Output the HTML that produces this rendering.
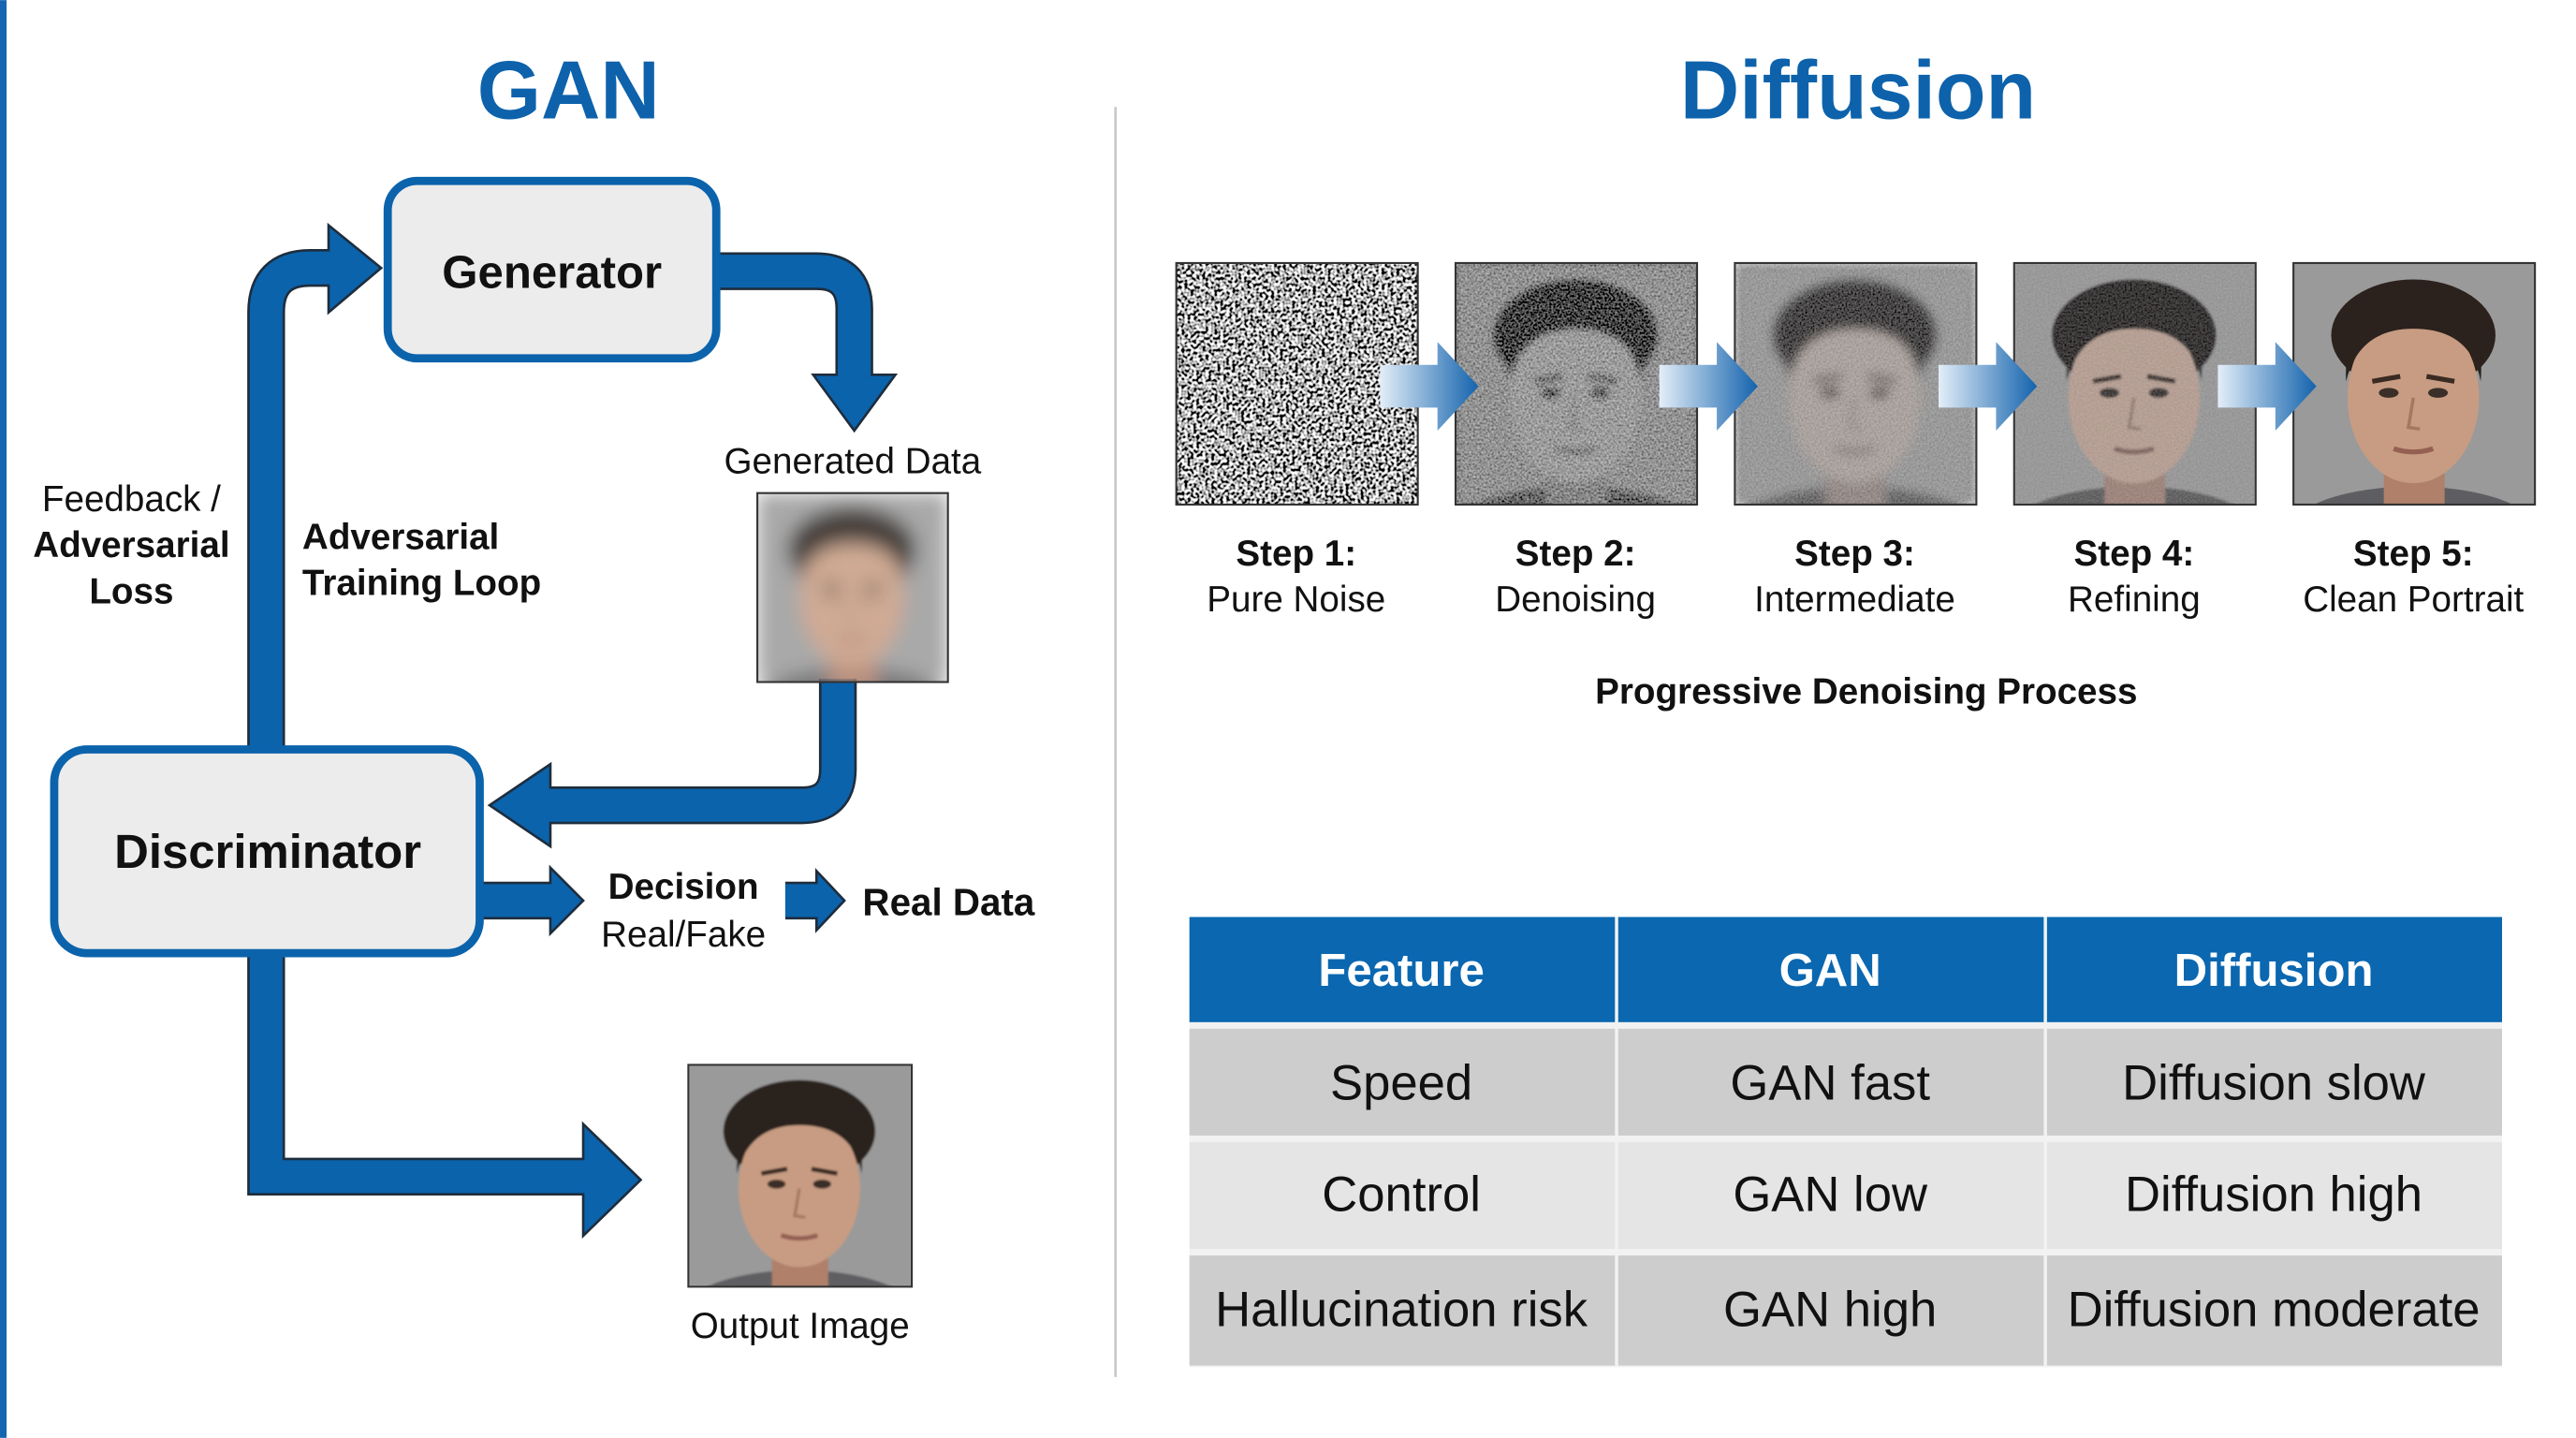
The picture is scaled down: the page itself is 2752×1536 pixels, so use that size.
<!DOCTYPE html>
<html><head><meta charset="utf-8"><style>
html,body{margin:0;padding:0;background:#fff}
svg{display:block}
text{font-family:"Liberation Sans",sans-serif}
.n{font-family:"Liberation Sans Narrow","Liberation Sans",sans-serif}
</style></head><body>
<svg width="2752" height="1536" viewBox="0 0 1568 875" xmlns="http://www.w3.org/2000/svg">
<defs>
<filter id="noise" x="0" y="0" width="1" height="1">
<feTurbulence type="fractalNoise" baseFrequency="0.55" numOctaves="1" seed="4"/>
<feColorMatrix type="matrix" values="1 0 0 0 0 1 0 0 0 0 1 0 0 0 0 0 0 0 0 1"/>
<feComponentTransfer><feFuncR type="linear" slope="4" intercept="-1.55"/><feFuncG type="linear" slope="4" intercept="-1.55"/><feFuncB type="linear" slope="4" intercept="-1.55"/></feComponentTransfer>
</filter>
<filter id="f2" x="0" y="0" width="1" height="1">
<feColorMatrix in="SourceGraphic" type="saturate" values="0" result="g"/>
<feGaussianBlur in="g" stdDeviation="2" result="gb"/>
<feTurbulence type="fractalNoise" baseFrequency="0.8" seed="7" result="t"/>
<feColorMatrix in="t" type="matrix" values="1 0 0 0 0 1 0 0 0 0 1 0 0 0 0 0 0 0 0 1" result="tg"/>
<feComposite in="gb" in2="tg" operator="arithmetic" k2="0.75" k3="0.7" k4="-0.3"/>
</filter>
<filter id="f3" x="0" y="0" width="1" height="1">
<feColorMatrix in="SourceGraphic" type="saturate" values="0.2" result="g"/>
<feGaussianBlur in="g" stdDeviation="3" result="gb"/>
<feTurbulence type="fractalNoise" baseFrequency="0.9" seed="9" result="t"/>
<feColorMatrix in="t" type="matrix" values="1 0 0 0 0 1 0 0 0 0 1 0 0 0 0 0 0 0 0 1" result="tg"/>
<feComposite in="gb" in2="tg" operator="arithmetic" k2="0.85" k3="0.3" k4="-0.1"/>
</filter>
<filter id="f4" x="0" y="0" width="1" height="1">
<feColorMatrix in="SourceGraphic" type="saturate" values="0.5" result="g"/>
<feGaussianBlur in="g" stdDeviation="0.8" result="gb"/>
<feTurbulence type="fractalNoise" baseFrequency="0.9" seed="11" result="t"/>
<feColorMatrix in="t" type="matrix" values="1 0 0 0 0 1 0 0 0 0 1 0 0 0 0 0 0 0 0 1" result="tg"/>
<feComposite in="gb" in2="tg" operator="arithmetic" k2="0.92" k3="0.15" k4="-0.05"/>
</filter>
<filter id="blur" x="0" y="0" width="1" height="1"><feGaussianBlur stdDeviation="7"/></filter>
<filter id="soft" x="0" y="0" width="1" height="1"><feGaussianBlur stdDeviation="0.6"/></filter>
<linearGradient id="ag" x1="0" x2="1" y1="0" y2="0"><stop offset="0" stop-color="#e3eef8"/><stop offset="1" stop-color="#1463ad"/></linearGradient>
<g id="face">
<rect x="0" y="0" width="147" height="147" fill="#9a9a9a"/>
<ellipse cx="73" cy="162" rx="74" ry="26" fill="#5e5e62"/>
<rect x="55" y="108" width="37" height="45" fill="#b0806a"/>
<ellipse cx="73" cy="44" rx="50" ry="34" fill="#2b211d"/>
<ellipse cx="73" cy="82" rx="40" ry="52" fill="#c89c82"/>
<path d="M32,72 Q30,22 73,18 Q118,20 114,72 Q108,40 73,40 Q40,40 32,72Z" fill="#2b211d"/>
<path d="M48,72 L65,69" stroke="#3a2a22" stroke-width="3"/><path d="M81,69 L98,72" stroke="#3a2a22" stroke-width="3"/>
<ellipse cx="58" cy="79" rx="6" ry="3" fill="#3a2e28"/><ellipse cx="88" cy="79" rx="6" ry="3" fill="#3a2e28"/>
<path d="M73,82 L70,100 L77,101" stroke="#a47860" stroke-width="2" fill="none"/>
<path d="M61,113 Q73,117 85,113" stroke="#955f52" stroke-width="3" fill="none"/>
</g>
</defs>

<rect x="0" y="0" width="1568" height="875" fill="#fff"/>
<rect x="0" y="0" width="4" height="875" fill="#1565b0"/>
<line x1="679" y1="65" x2="679" y2="838" stroke="#c8c8c8" stroke-width="1.5"/>

<text x="346" y="72" font-size="50" font-weight="bold" fill="#0d62ab" text-anchor="middle">GAN</text>
<text x="1131" y="72" font-size="50" font-weight="bold" fill="#0d62ab" text-anchor="middle">Diffusion</text>

<g fill="none" stroke="#1e2d3d" stroke-width="23">
<path d="M162,458 L162,190 Q162,163 189,163 L205,163"/>
<path d="M433,165 L497,165 Q520,165 520,188 L520,232"/>
<path d="M510,413 L510,468 Q510,490 488,490 L330,490"/>
<path d="M289,548 L338,548"/>
<path d="M478,548 L499,548"/>
<path d="M162,578 L162,716 L360,716"/>
</g>
<g fill="#0b63ac" stroke="#1e2d3d" stroke-width="1.5">
<polygon points="200,137 232,163 200,190"/>
<polygon points="495,228 545,228 520,262"/>
<polygon points="335,465 335,515 298,490"/>
<polygon points="335,528 355,548 335,568"/>
<polygon points="497,530 514,548 497,566"/>
<polygon points="355,684 390,718 355,752"/>
</g>
<g fill="none" stroke="#0b63ac" stroke-width="20">
<path d="M162,458 L162,190 Q162,163 189,163 L203,163"/>
<path d="M433,165 L497,165 Q520,165 520,188 L520,230"/>
<path d="M510,413 L510,468 Q510,490 488,490 L333,490"/>
<path d="M289,548 L337,548"/>
<path d="M478,548 L498,548"/>
<path d="M162,578 L162,716 L357,716"/>
</g>

<rect x="236" y="110" width="200" height="108" rx="18" fill="#ececec" stroke="#0b63ac" stroke-width="5"/>
<text x="336" y="175" font-size="28" font-weight="bold" text-anchor="middle" fill="#111">Generator</text>
<rect x="33" y="456" width="259" height="124" rx="20" fill="#ececec" stroke="#0b63ac" stroke-width="5"/>
<text x="163" y="528" font-size="29" font-weight="bold" text-anchor="middle" fill="#111">Discriminator</text>

<text x="80" y="311" font-size="22" text-anchor="middle" fill="#111">Feedback /</text>
<text x="80" y="339" font-size="22" font-weight="bold" text-anchor="middle" fill="#111">Adversarial</text>
<text x="80" y="367" font-size="22" font-weight="bold" text-anchor="middle" fill="#111">Loss</text>
<text x="184" y="334" font-size="22" font-weight="bold" fill="#111">Adversarial</text>
<text x="184" y="362" font-size="22" font-weight="bold" fill="#111">Training Loop</text>
<text x="519" y="288" font-size="22" text-anchor="middle" fill="#111">Generated Data</text>
<text x="416" y="547" font-size="22" font-weight="bold" text-anchor="middle" fill="#111">Decision</text>
<text x="416" y="576" font-size="22" text-anchor="middle" fill="#111">Real/Fake</text>
<text x="525" y="557" font-size="23" font-weight="bold" fill="#111">Real Data</text>
<text x="487" y="814" font-size="22" text-anchor="middle" fill="#111">Output Image</text>

<svg x="461" y="300" width="116" height="115" viewBox="0 0 147 147" preserveAspectRatio="none">
<g filter="url(#blur)" opacity="0.85"><rect width="147" height="147" fill="#b0b0b0"/><use href="#face"/></g></svg>
<rect x="461" y="300" width="116" height="115" fill="none" stroke="#333" stroke-width="1.2"/>
<svg x="419" y="648" width="136" height="135" viewBox="0 0 147 147" preserveAspectRatio="none">
<g filter="url(#soft)"><use href="#face"/></g></svg>
<rect x="419" y="648" width="136" height="135" fill="none" stroke="#333" stroke-width="1.2"/>

<svg x="716" y="160" width="147" height="147" viewBox="0 0 147 147"><rect width="147" height="147" fill="#777" filter="url(#noise)"/></svg>
<svg x="886" y="160" width="147" height="147" viewBox="0 0 147 147"><g filter="url(#f2)"><use href="#face"/></g></svg>
<svg x="1056" y="160" width="147" height="147" viewBox="0 0 147 147"><g filter="url(#f3)"><use href="#face"/></g></svg>
<svg x="1226" y="160" width="147" height="147" viewBox="0 0 147 147"><g filter="url(#f4)"><use href="#face"/></g></svg>
<svg x="1396" y="160" width="147" height="147" viewBox="0 0 147 147"><use href="#face"/></svg>
<g fill="none" stroke="#333" stroke-width="1.2">
<rect x="716" y="160" width="147" height="147"/><rect x="886" y="160" width="147" height="147"/><rect x="1056" y="160" width="147" height="147"/><rect x="1226" y="160" width="147" height="147"/><rect x="1396" y="160" width="147" height="147"/>
</g>
<g fill="url(#ag)">
<path d="M840,222 L875,222 L875,208 L900,235 L875,262 L875,248 L840,248Z"/>
<path d="M1010,222 L1045,222 L1045,208 L1070,235 L1045,262 L1045,248 L1010,248Z"/>
<path d="M1180,222 L1215,222 L1215,208 L1240,235 L1215,262 L1215,248 L1180,248Z"/>
<path d="M1350,222 L1385,222 L1385,208 L1410,235 L1385,262 L1385,248 L1350,248Z"/>
</g>
<g class="n" font-size="22" text-anchor="middle" fill="#111">
<text x="789" y="344" font-weight="bold" class="n">Step 1:</text><text x="789" y="372" class="n">Pure Noise</text>
<text x="959" y="344" font-weight="bold" class="n">Step 2:</text><text x="959" y="372" class="n">Denoising</text>
<text x="1129" y="344" font-weight="bold" class="n">Step 3:</text><text x="1129" y="372" class="n">Intermediate</text>
<text x="1299" y="344" font-weight="bold" class="n">Step 4:</text><text x="1299" y="372" class="n">Refining</text>
<text x="1469" y="344" font-weight="bold" class="n">Step 5:</text><text x="1469" y="372" class="n">Clean Portrait</text>
<text x="1136" y="428" font-weight="bold" class="n">Progressive Denoising Process</text>
</g>

<rect x="724" y="558" width="799" height="274" fill="#f2f2f2"/>
<g fill="#0a67b0"><rect x="724" y="558" width="259" height="64"/><rect x="985" y="558" width="259" height="64"/><rect x="1246" y="558" width="277" height="64"/></g>
<g fill="#cdcdcd"><rect x="724" y="626" width="259" height="65"/><rect x="985" y="626" width="259" height="65"/><rect x="1246" y="626" width="277" height="65"/>
<rect x="724" y="764" width="259" height="67"/><rect x="985" y="764" width="259" height="67"/><rect x="1246" y="764" width="277" height="67"/></g>
<g fill="#e5e5e5"><rect x="724" y="695" width="259" height="65"/><rect x="985" y="695" width="259" height="65"/><rect x="1246" y="695" width="277" height="65"/></g>
<g text-anchor="middle">
<text class="n" x="853" y="600" font-size="28" font-weight="bold" fill="#fff">Feature</text>
<text class="n" x="1114" y="600" font-size="28" font-weight="bold" fill="#fff">GAN</text>
<text class="n" x="1384" y="600" font-size="28" font-weight="bold" fill="#fff">Diffusion</text>
<text class="n" x="853" y="669" font-size="30" fill="#111">Speed</text>
<text class="n" x="1114" y="669" font-size="30" fill="#111">GAN fast</text>
<text class="n" x="1384" y="669" font-size="30" fill="#111">Diffusion slow</text>
<text class="n" x="853" y="737" font-size="30" fill="#111">Control</text>
<text class="n" x="1114" y="737" font-size="30" fill="#111">GAN low</text>
<text class="n" x="1384" y="737" font-size="30" fill="#111">Diffusion high</text>
<text class="n" x="853" y="807" font-size="30" fill="#111">Hallucination risk</text>
<text class="n" x="1114" y="807" font-size="30" fill="#111">GAN high</text>
<text class="n" x="1384" y="807" font-size="30" fill="#111">Diffusion moderate</text>
</g>
</svg>
</body></html>
